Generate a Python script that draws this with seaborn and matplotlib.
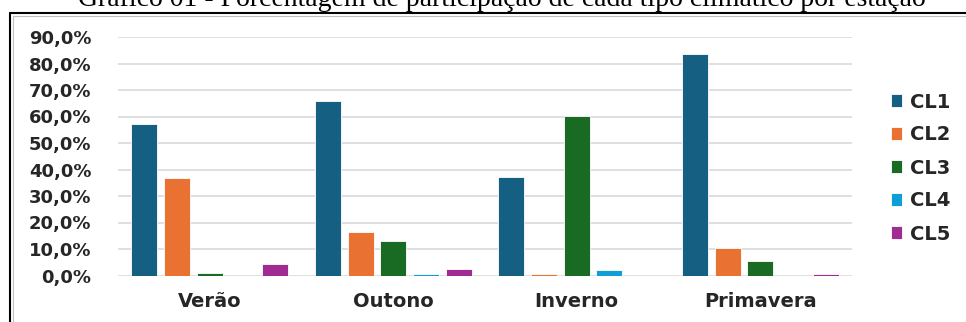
import pandas as pd
import matplotlib.pyplot as plt
import matplotlib.ticker as mticker
from matplotlib.lines import Line2D
import seaborn as sns

# Data (percent of each climate type per season)
seasons = ['Verão', 'Outono', 'Inverno', 'Primavera']
classes = ['CL1', 'CL2', 'CL3', 'CL4', 'CL5']
cl1 = [57.0, 65.7, 37.0, 83.5]
cl2 = [36.8, 16.5, 0.5, 10.2]
cl3 = [1.0, 13.1, 60.3, 5.6]
cl4 = [0.0, 0.6, 2.2, 0.0]
cl5 = [4.5, 2.3, 0.0, 0.5]
colors = ['#156082', '#E97132', '#196B24', '#0F9ED5', '#A02B93']
yticks = [0, 10, 20, 30, 40, 50, 60, 70, 80, 90]
title = 'Gráfico 01 - Porcentagem de participação de cada tipo climático por estação'

# long-form table for seaborn
rows = []
for cl, vals in zip(classes, [cl1, cl2, cl3, cl4, cl5]):
    for s, v in zip(seasons, vals):
        rows.append({'estacao': s, 'classe': cl, 'pct': v})
df = pd.DataFrame(rows)

sns.set_theme(style='white')
plt.rcParams['font.family'] = ['DejaVu Sans']

W, H = 966, 322
fig = plt.figure(figsize=(W / 100, H / 100), dpi=100)
ax = fig.add_axes([118 / W, 1 - 275.5 / H, (852 - 118) / W, (275.5 - 37) / H])

sns.barplot(data=df, x='estacao', y='pct', hue='classe', order=seasons,
            hue_order=classes, palette=colors, saturation=1, width=0.89,
            gap=0.2, edgecolor='white', linewidth=0.6, ax=ax, zorder=3)

ax.set_ylim(0, 90)
ax.set_xlim(-0.5, 3.5)
ax.set_yticks(yticks)
ax.yaxis.set_major_formatter(mticker.FuncFormatter(
    lambda v, p: f'{v:.1f}%'.replace('.', ',')))
ax.grid(axis='y', color='#D9D9D9', linewidth=1.2, zorder=0)
for sp in ax.spines.values():
    sp.set_visible(False)
ax.set_xlabel('')
ax.set_ylabel('')
ax.tick_params(axis='y', length=0, pad=19, labelsize=13, labelcolor='#262626')
ax.tick_params(axis='x', length=0, pad=12, labelsize=14, labelcolor='#262626')
for t in ax.get_yticklabels() + ax.get_xticklabels():
    t.set_fontweight('bold')

h, l = ax.get_legend_handles_labels()
ax.legend(h, l, loc='center left', bbox_to_anchor=(883 / W, 1 - 168 / H),
          bbox_transform=fig.transFigure, frameon=False,
          prop={'weight': 'bold', 'size': 14}, labelcolor='#262626',
          handlelength=0.6, handleheight=0.6, handletextpad=0.4,
          labelspacing=0.72, borderaxespad=0)

# caption (cropped at the top in the scan) and page frame
fig.text(0.52, 1 - 6 / H, title, ha='center', va='baseline',
         family='Liberation Serif', fontsize=20, color='black')
fig.add_artist(Line2D([10 / W, 10 / W], [0, 1 - 13 / H], color='black',
                      linewidth=1.5, transform=fig.transFigure))
fig.add_artist(Line2D([10 / W, 1], [1 - 13 / H, 1 - 13 / H], color='black',
                      linewidth=1.5, transform=fig.transFigure))
fig.add_artist(Line2D([13 / W, 13 / W], [0, 1 - 16 / H], color='#BFBFBF',
                      linewidth=0.8, transform=fig.transFigure))
fig.add_artist(Line2D([13 / W, 1], [1 - 16 / H, 1 - 16 / H], color='#BFBFBF',
                      linewidth=0.8, transform=fig.transFigure))

fig.savefig('out.png', dpi=100)
